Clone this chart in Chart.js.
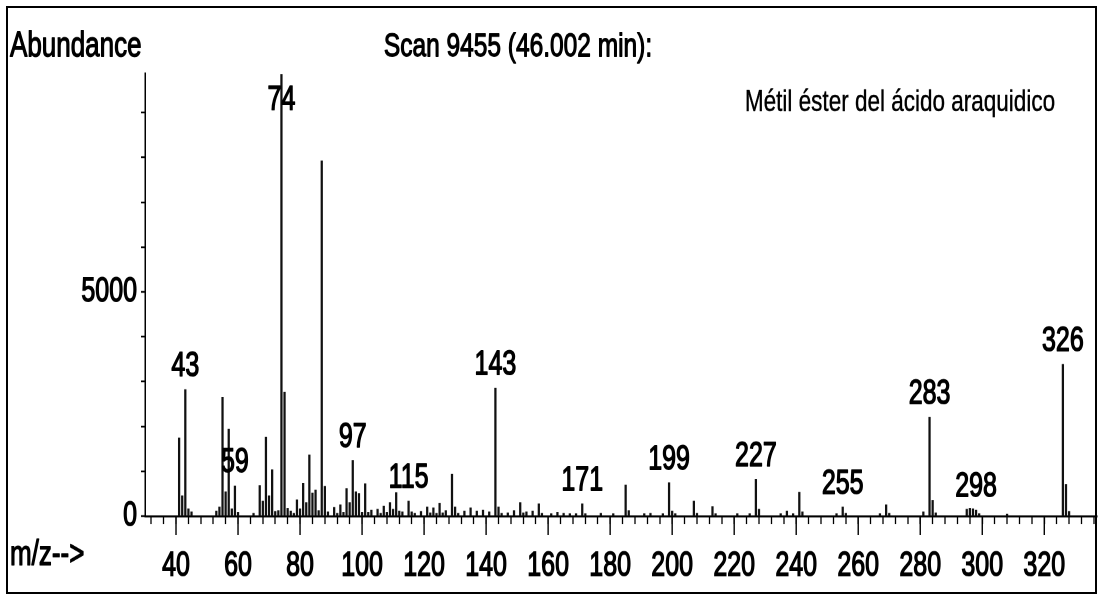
<!DOCTYPE html>
<html>
<head>
<meta charset="utf-8">
<script src="https://cdn.jsdelivr.net/npm/chart.js@4"></script>
<style>
  html, body { margin: 0; padding: 0; background: #fff; }
  #page { position: relative; width: 1099px; height: 596px; overflow: hidden; background: #fff; }
  /* the scanned original is stretched vertically, so the whole chart is too */
  #stretch { position: absolute; left: 0; top: 0; width: 1099px; height: 440px; transform: scaleY(1.3545); transform-origin: 0 0; }
  #frame { position: absolute; left: 6px; top: 6px; width: 1087px; height: 584px; border: 2px solid #000; pointer-events: none; }
</style>
</head>
<body>
<div id="page">
  <div id="stretch"><canvas id="msChart"></canvas></div>
  <div id="frame"></div>
</div>
<script>
// ==========================
// Mass spectrum - scan 9455
// ==========================

const mzValues = [
    41, 42, 43, 44, 45, 53, 54, 55, 56, 57, 58, 59, 60, 65, 67, 68, 69, 70, 71, 72,
    73, 74, 75, 76, 77, 78, 79, 80, 81, 82, 83, 84, 85, 86, 87, 88, 89, 91, 92, 93,
    94, 95, 96, 97, 98, 99, 100, 101, 102, 103, 105, 106, 107, 108, 109, 110, 111, 112, 113, 115,
    116, 117, 119, 121, 122, 123, 124, 125, 126, 127, 129, 130, 131, 133, 135, 137, 139, 141, 143, 144,
    145, 147, 149, 151, 152, 153, 155, 157, 158, 161, 163, 165, 167, 169, 171, 172, 177, 181, 185, 186,
    191, 193, 197, 199, 200, 201, 207, 208, 213, 214, 221, 225, 227, 228, 235, 237, 239, 241, 242, 253,
    255, 256, 267, 269, 270, 281, 283, 284, 285, 295, 296, 297, 298, 299, 308, 326, 327, 328
];

const abundance = [
    1740, 450, 2820, 160, 90, 110, 200, 2650, 540, 1940, 160, 670, 80, 60, 680, 330, 1760, 450, 1030, 100,
    120, 9850, 2760, 170, 110, 60, 360, 160, 730, 300, 1360, 510, 580, 120, 7920, 660, 90, 190, 60, 250,
    80, 610, 300, 1240, 540, 500, 80, 720, 80, 130, 150, 60, 220, 80, 300, 150, 520, 110, 90, 330,
    90, 60, 100, 200, 70, 180, 60, 280, 70, 120, 930, 200, 60, 110, 180, 110, 130, 90, 2850, 200,
    60, 70, 120, 300, 70, 90, 110, 270, 60, 50, 80, 60, 50, 50, 270, 50, 60, 50, 690, 120,
    50, 60, 50, 740, 110, 50, 330, 60, 210, 50, 50, 50, 820, 150, 50, 110, 50, 530, 90, 50,
    200, 60, 50, 250, 60, 90, 2200, 350, 70, 150, 170, 160, 130, 50, 40, 3380, 700, 100
];

const labelledPeaks = [43, 59, 74, 97, 115, 143, 171, 199, 227, 255, 283, 298, 326];
const xTickValues = [
    32, 36, 40, 44, 48, 52, 56, 60, 64, 68, 72, 76, 80, 84, 88, 92, 96, 100, 104, 108,
    112, 116, 120, 124, 128, 132, 136, 140, 144, 148, 152, 156, 160, 164, 168, 172, 176, 180, 184, 188,
    192, 196, 200, 204, 208, 212, 216, 220, 224, 228, 232, 236, 240, 244, 248, 252, 256, 260, 264, 268,
    272, 276, 280, 284, 288, 292, 296, 300, 304, 308, 312, 316, 320, 324, 328, 332, 336
];
const xTickLabels = [40, 60, 80, 100, 120, 140, 160, 180, 200, 220, 240, 260, 280, 300, 320];
const yTickValues = [0, 1000, 2000, 3000, 4000, 5000, 6000, 7000, 8000, 9000];
const yTickLabels = [0, 5000];

const titleText = "Scan 9455 (46.002 min):";
const compoundName = "Métil éster del ácido araquidico";
const yAxisTitle = "Abundance";
const xAxisTitle = "m/z-->";

const FONT = "'Liberation Sans', Arial, sans-serif";

// fill + thin stroke, like the heavy print of the scan
function inkText(ctx, text, x, y, weight) {
    ctx.lineWidth = weight;
    ctx.strokeText(text, x, y);
    ctx.fillText(text, x, y);
}

// texts and long ticks drawn on top of the chart
const spectrumText = {
    id: "spectrumText",
    afterDraw(chart) {
        const ctx = chart.ctx;
        const xs = chart.scales.x;
        const ys = chart.scales.y;
        const area = chart.chartArea;

        ctx.save();
        ctx.strokeStyle = "#000";
        ctx.lineWidth = 1.4;
        xs.ticks.forEach(t => {
            if (xTickLabels.includes(t.value)) {
                const px = xs.getPixelForValue(t.value);
                ctx.beginPath();
                ctx.moveTo(px, area.bottom);
                ctx.lineTo(px, area.bottom + 14);
                ctx.stroke();
            }
        });

        ctx.fillStyle = "#000";
        ctx.lineJoin = "round";
        ctx.textBaseline = "middle";

        ctx.font = "26px " + FONT;
        ctx.textAlign = "left";
        inkText(ctx, yAxisTitle, 10, 34.5, 0.9);
        inkText(ctx, xAxisTitle, 10, 410, 0.9);

        ctx.font = "24.5px " + FONT;
        ctx.textAlign = "center";
        inkText(ctx, titleText, 518, 34.5, 0.9);

        ctx.font = "22.5px " + FONT;
        inkText(ctx, compoundName, 900, 76, 0.3);

        ctx.font = "25px " + FONT;
        labelledPeaks.forEach(mz => {
            const i = mzValues.indexOf(mz);
            const top = ys.getPixelForValue(abundance[i]);
            const ly = Math.max(top - 17, area.top + 20);
            inkText(ctx, String(mz), xs.getPixelForValue(mz), ly, 1);
        });
        ctx.restore();
    }
};

new Chart(document.getElementById("msChart"), {
    type: "bar",
    data: {
        datasets: [
            {
                label: "Abundance",
                data: mzValues.map((m, i) => ({ x: m, y: abundance[i] })),
                backgroundColor: "#111",
                borderWidth: 0,
                barThickness: 1.6
            }
        ]
    },
    options: {
        responsive: true,
        maintainAspectRatio: false,
        animation: false,
        devicePixelRatio: 2,
        events: [],
        layout: {
            padding: { top: 54, right: 2, left: 0, bottom: 0 }
        },
        plugins: {
            legend: { display: false },
            tooltip: { enabled: false }
        },
        scales: {
            x: {
                type: "linear",
                min: 30,
                max: 337,
                offset: false,
                afterFit: s => {
                    s.height = 59;
                    s.paddingLeft = 0;
                    s.paddingRight = 0;
                },
                afterBuildTicks: s => { s.ticks = xTickValues.map(v => ({ value: v })); },
                grid: {
                    offset: false,
                    drawOnChartArea: false,
                    tickLength: 6,
                    tickWidth: 1.3,
                    tickColor: "#000"
                },
                border: { color: "#000", width: 1.5 },
                ticks: {
                    autoSkip: false,
                    maxRotation: 0,
                    minRotation: 0,
                    padding: 16,
                    color: "#000",
                    textStrokeColor: "#000",
                    textStrokeWidth: 1,
                    font: { family: FONT, size: 25 },
                    callback: v => xTickLabels.includes(v) ? String(v) : ""
                }
            },
            y: {
                min: 0,
                max: 9880,
                afterFit: s => { s.width = 145; },
                afterBuildTicks: s => { s.ticks = yTickValues.map(v => ({ value: v })); },
                grid: {
                    drawOnChartArea: false,
                    tickLength: 4,
                    tickWidth: 1.3,
                    tickColor: "#000"
                },
                border: { color: "#000", width: 1.5 },
                ticks: {
                    autoSkip: false,
                    padding: 4,
                    color: "#000",
                    textStrokeColor: "#000",
                    textStrokeWidth: 1,
                    font: { family: FONT, size: 25 },
                    callback: v => yTickLabels.includes(v) ? String(v) : ""
                }
            }
        }
    },
    plugins: [spectrumText]
});
</script>
</body>
</html>
